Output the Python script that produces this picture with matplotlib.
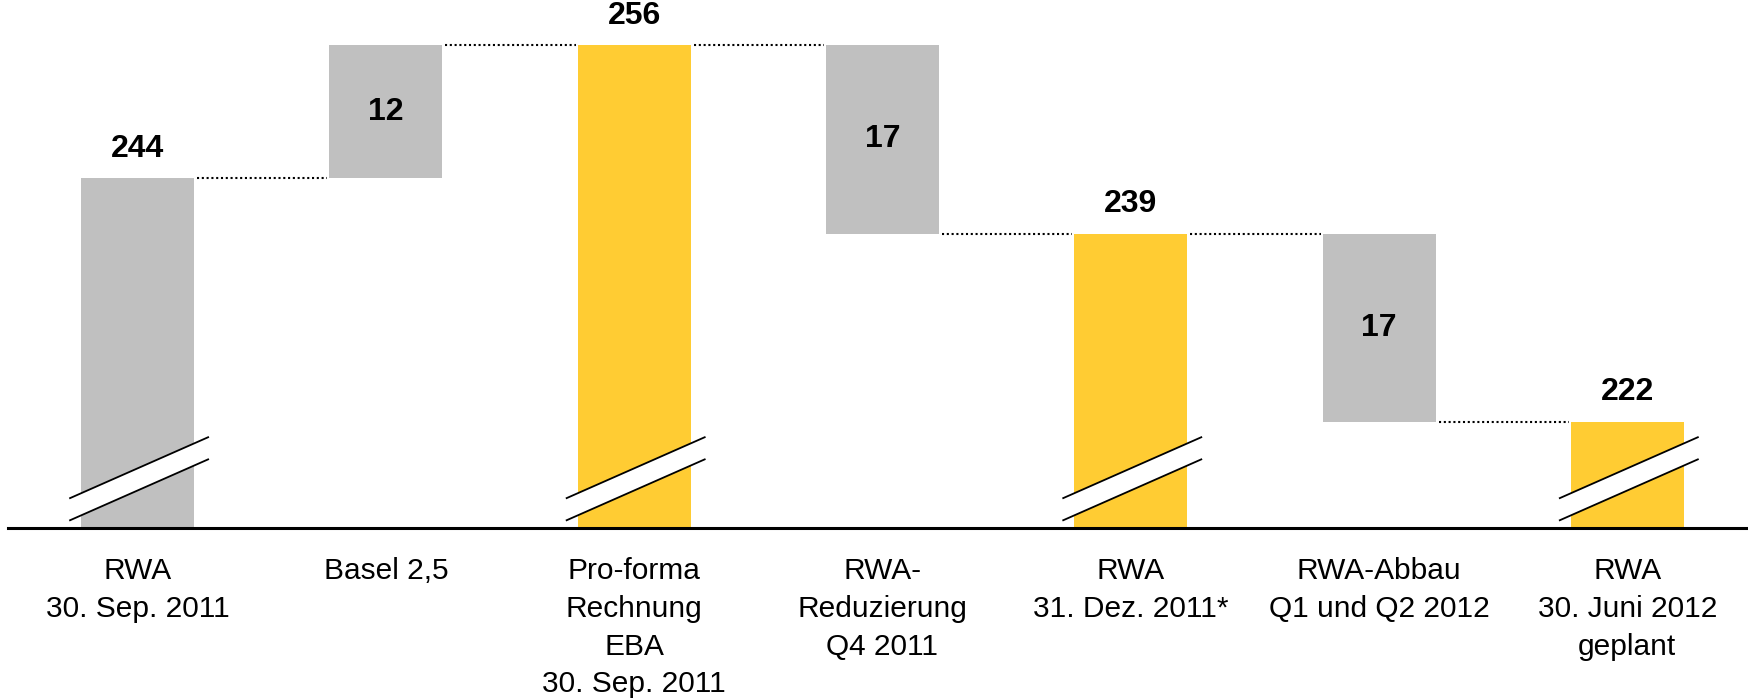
import matplotlib
matplotlib.use('Agg')
import matplotlib.pyplot as plt
from matplotlib.patches import Polygon

plt.rcParams['font.family'] = ['Liberation Sans', 'DejaVu Sans']

categories = ['RWA\n30. Sep. 2011', 'Basel 2,5',
              'Pro-forma\nRechnung\nEBA\n30. Sep. 2011',
              'RWA-\nReduzierung\nQ4 2011', 'RWA\n31. Dez. 2011*',
              'RWA-Abbau\nQ1 und Q2 2012', 'RWA\n30. Juni 2012\ngeplant']
values = [244, 12, 256, -17, 239, -17, 222]
is_total = [True, False, True, False, True, False, True]

GREY = '#C0C0C0'
YELLOW = '#FFCC33'
Y_MIN, Y_MAX = 212.4, 260.1
WIDTH = 0.455

fig = plt.figure(figsize=(17.49, 7), dpi=100)
ax = fig.add_axes([8 / 1749, 172 / 700, 1 - 8 / 1749, 528 / 700])
ax.set_xlim(-0.522, 6.49)
ax.set_ylim(Y_MIN, Y_MAX)

level = 0
levels = []
for i, (v, tot) in enumerate(zip(values, is_total)):
    if tot:
        bottom, height = Y_MIN, v - Y_MIN
        color = YELLOW if i > 0 else GREY
        level = v
        ax.bar(i, height, bottom=bottom, width=WIDTH, color=color, zorder=2)
        ax.text(i, v + 1.3, str(v), ha='center', va='bottom',
                fontsize=23, fontweight='bold')
        # axis break mark
        x0, x1 = i - 0.272, i + 0.284
        poly = Polygon([(x0, Y_MIN + 0.7), (x1, Y_MIN + 6.2),
                        (x1, Y_MIN + 8.2), (x0, Y_MIN + 2.7)],
                       closed=True, facecolor='white', edgecolor='none', zorder=3)
        ax.add_patch(poly)
        ax.plot([x0, x1], [Y_MIN + 0.7, Y_MIN + 6.2], color='black', lw=1.3, zorder=4)
        ax.plot([x0, x1], [Y_MIN + 2.7, Y_MIN + 8.2], color='black', lw=1.3, zorder=4)
    else:
        bottom = level if v > 0 else level + v
        ax.bar(i, abs(v), bottom=bottom, width=WIDTH, color=GREY, zorder=2)
        ax.text(i, bottom + abs(v) / 2, str(abs(v)), ha='center', va='center',
                fontsize=23, fontweight='bold')
        level = level + v
    levels.append(level)

for i in range(len(values) - 1):
    ax.plot([i + WIDTH / 2 + 0.012, i + 1 - WIDTH / 2 - 0.008], [levels[i], levels[i]],
            color='black', lw=1.5, linestyle=(0, (1, 1.3)), zorder=1)

for s in ['top', 'right', 'left']:
    ax.spines[s].set_visible(False)
ax.spines['bottom'].set_linewidth(2.2)
ax.spines['bottom'].set_zorder(5)
ax.set_yticks([])
ax.set_xticks(range(len(categories)))
ax.set_xticklabels(categories, fontsize=21.5, linespacing=1.44)
ax.tick_params(axis='x', length=0, pad=21)

fig.savefig('out.png', dpi=100)
